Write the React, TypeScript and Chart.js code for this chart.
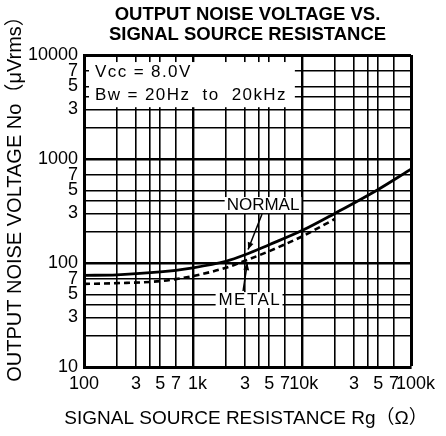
import React, { useEffect, useRef } from 'react';
import { Chart, registerables } from 'chart.js';

Chart.register(...registerables);

// ---- data ----
const normalResistance = [100, 200, 500, 1000, 2000, 3000, 5000, 10000, 20000, 50000, 100000];
const normalNoise = [76, 77, 82, 90, 104, 120, 150, 205, 300, 510, 800];
const metalResistance = [100, 200, 500, 1000, 2000, 3000, 5000, 10000, 20000];
const metalNoise = [63, 64, 67, 75, 90, 105, 130, 180, 265];

const xTickValues = [100, 200, 300, 400, 500, 700, 1000, 2000, 3000, 4000, 5000, 7000, 10000, 20000, 30000, 40000, 50000, 70000, 100000];
const xTickLabels = ['100', '', '3', '', '5', '7', '1k', '', '3', '', '5', '7', '10k', '', '3', '', '5', '7', '100k'];
const yTickValues = [10, 20, 30, 40, 50, 70, 100, 200, 300, 400, 500, 700, 1000, 2000, 3000, 4000, 5000, 7000, 10000];
const yTickLabels = ['10', '', '3', '', '5', '7', '100', '', '3', '', '5', '7', '1000', '', '3', '', '5', '7', '10000'];

const titleLines = ['OUTPUT NOISE VOLTAGE VS.', 'SIGNAL SOURCE RESISTANCE'];
const xAxisTitle = 'SIGNAL SOURCE RESISTANCE Rg（Ω）';
const yAxisTitle = 'OUTPUT NOISE VOLTAGE No（μVrms）';
const conditionLines = ['Vcc = 8.0V', 'Bw = 20Hz  to  20kHz'];
const seriesNames = ['NORMAL', 'METAL'];

const FONT = "'Liberation Sans', Arial, 'Noto Sans CJK JP', sans-serif";

function arrowLine(ctx: CanvasRenderingContext2D, x1: number, y1: number, x2: number, y2: number) {
  ctx.beginPath();
  ctx.moveTo(x1, y1);
  ctx.lineTo(x2, y2);
  ctx.lineWidth = 1.5;
  ctx.strokeStyle = '#000';
  ctx.stroke();
  const a = Math.atan2(y2 - y1, x2 - x1);
  const len = 7;
  const w = 3;
  ctx.beginPath();
  ctx.moveTo(x2, y2);
  ctx.lineTo(x2 - len * Math.cos(a) + w * Math.sin(a), y2 - len * Math.sin(a) - w * Math.cos(a));
  ctx.lineTo(x2 - len * Math.cos(a) - w * Math.sin(a), y2 - len * Math.sin(a) + w * Math.cos(a));
  ctx.closePath();
  ctx.fillStyle = '#000';
  ctx.fill();
}

const decorPlugin = {
  id: 'noiseDecor',
  beforeDatasetsDraw(chart: any) {
    const { ctx, chartArea, scales } = chart;
    const x = scales.x;
    const y = scales.y;
    const left = chartArea.left + 5;
    const top = chartArea.top + 7;
    const right = x.getPixelForValue(8600);
    const bottom = y.getPixelForValue(3150);
    ctx.save();
    ctx.fillStyle = '#fff';
    ctx.fillRect(left, top, right - left, bottom - top);
    ctx.fillStyle = '#000';
    ctx.font = `17px ${FONT}`;
    ctx.textBaseline = 'middle';
    ctx.textAlign = 'left';
    ctx.letterSpacing = '1.4px';
    ctx.fillText(conditionLines[0], left + 6, top + 10.5);
    ctx.fillText(conditionLines[1], left + 6, top + 33);
    ctx.restore();
  },
  afterDatasetsDraw(chart: any) {
    const { ctx, scales } = chart;
    const x = scales.x;
    const y = scales.y;
    ctx.save();
    ctx.font = `17px ${FONT}`;
    ctx.textBaseline = 'middle';
    ctx.textAlign = 'center';
    // NORMAL label
    const nx = x.getPixelForValue(4390);
    const ny = y.getPixelForValue(361);
    ctx.letterSpacing = '0px';
    const nw = ctx.measureText(seriesNames[0]).width;
    ctx.fillStyle = '#fff';
    ctx.fillRect(nx - nw / 2 - 2, ny - 8, nw + 4, 16);
    ctx.fillStyle = '#000';
    ctx.fillText(seriesNames[0], nx, ny + 0.5);
    arrowLine(ctx, x.getPixelForValue(4300), y.getPixelForValue(296), x.getPixelForValue(3200), y.getPixelForValue(135));
    // METAL label
    const mx = x.getPixelForValue(3270);
    const my = y.getPixelForValue(44);
    ctx.letterSpacing = '1.5px';
    const mw = ctx.measureText(seriesNames[1]).width;
    ctx.fillStyle = '#fff';
    ctx.fillRect(mx - mw / 2 - 2, my - 8, mw + 4, 16);
    ctx.fillStyle = '#000';
    ctx.fillText(seriesNames[1], mx + 0.75, my + 0.5);
    ctx.letterSpacing = '0px';
    arrowLine(ctx, x.getPixelForValue(2880), y.getPixelForValue(53.8), x.getPixelForValue(3150), y.getPixelForValue(100));
    ctx.restore();
  },
  afterDraw(chart: any) {
    const { ctx, chartArea } = chart;
    ctx.save();
    ctx.fillStyle = '#000';
    ctx.textBaseline = 'middle';
    ctx.textAlign = 'center';
    ctx.font = `19px ${FONT}`;
    ctx.fillText(xAxisTitle, (chartArea.left + chartArea.right) / 2 - 1.5, chartArea.bottom + 52);
    ctx.font = `20px ${FONT}`;
    ctx.translate(15, 194);
    ctx.rotate(-Math.PI / 2);
    ctx.fillText(yAxisTitle, 0, 0);
    ctx.restore();
  },
};

function xLabel(i: number) {
  const t = xTickLabels[i];
  if (t === '10k') return '\u2009' + t;
  if (t.endsWith('k')) return '\u2002' + t;
  return t;
}

export default function App() {
  const canvasRef = useRef<HTMLCanvasElement | null>(null);

  useEffect(() => {
    const canvas = canvasRef.current;
    if (!canvas) return;
    const chart = new Chart(canvas, {
      type: 'line',
      data: {
        datasets: [
          {
            label: seriesNames[0],
            data: normalResistance.map((r, i) => ({ x: r, y: normalNoise[i] })),
            borderColor: '#000',
            borderWidth: 2.8,
            pointRadius: 0,
            cubicInterpolationMode: 'monotone',
            fill: false,
          },
          {
            label: seriesNames[1],
            data: metalResistance.map((r, i) => ({ x: r, y: metalNoise[i] })),
            borderColor: '#000',
            borderWidth: 2.6,
            borderDash: [6, 4],
            pointRadius: 0,
            cubicInterpolationMode: 'monotone',
            fill: false,
          },
        ],
      },
      options: {
        responsive: false,
        animation: false,
        devicePixelRatio: 1,
        layout: { padding: { left: 0, right: 35, top: 0, bottom: 0 } },
        plugins: {
          legend: { display: false },
          tooltip: { enabled: false },
          title: {
            display: true,
            text: titleLines,
            color: '#000',
            fullSize: false,
            font: { family: FONT, size: 18.5, weight: 'bold', lineHeight: 1.05 },
            padding: { top: 5.3, bottom: 10.9 },
          },
        },
        scales: {
          x: {
            type: 'logarithmic',
            min: 100,
            max: 100000,
            afterFit: (scale: any) => { scale.height = 69; },
            afterBuildTicks: (scale: any) => { scale.ticks = xTickValues.map((v) => ({ value: v })); },
            ticks: {
              autoSkip: false,
              maxRotation: 0,
              minRotation: 0,
              padding: 8,
              color: '#000',
              font: { family: FONT, size: 18, lineHeight: 1 },
              callback: (_v: any, i: number) => xLabel(i),
            },
            grid: {
              color: '#000',
              drawTicks: false,
              lineWidth: (c: any) => {
                const v = c.tick && c.tick.value;
                if (v === 100000) return 3;
                if (v === 1000 || v === 10000) return 2.4;
                return 1.6;
              },
            },
            border: { color: '#000', width: 3 },
          },
          y: {
            type: 'logarithmic',
            min: 10,
            max: 10000,
            afterFit: (scale: any) => { scale.width = 84; },
            afterBuildTicks: (scale: any) => { scale.ticks = yTickValues.map((v) => ({ value: v })); },
            ticks: {
              autoSkip: false,
              padding: 6,
              color: '#000',
              font: { family: FONT, size: 18, lineHeight: 1 },
              callback: (_v: any, i: number) => yTickLabels[i],
            },
            grid: {
              color: '#000',
              drawTicks: false,
              lineWidth: (c: any) => {
                const v = c.tick && c.tick.value;
                if (v === 10000 || v === 10) return 3;
                if (v === 100 || v === 1000) return 2.4;
                return 1.6;
              },
            },
            border: { color: '#000', width: 3 },
          },
        },
      },
      plugins: [decorPlugin],
    } as any);
    return () => chart.destroy();
  }, []);

  return (
    <div style={{ position: 'fixed', left: 0, top: 0, width: 446, height: 436, background: '#fff' }}>
      <canvas ref={canvasRef} width={446} height={436} style={{ display: 'block', width: 446, height: 436 }} />
    </div>
  );
}
